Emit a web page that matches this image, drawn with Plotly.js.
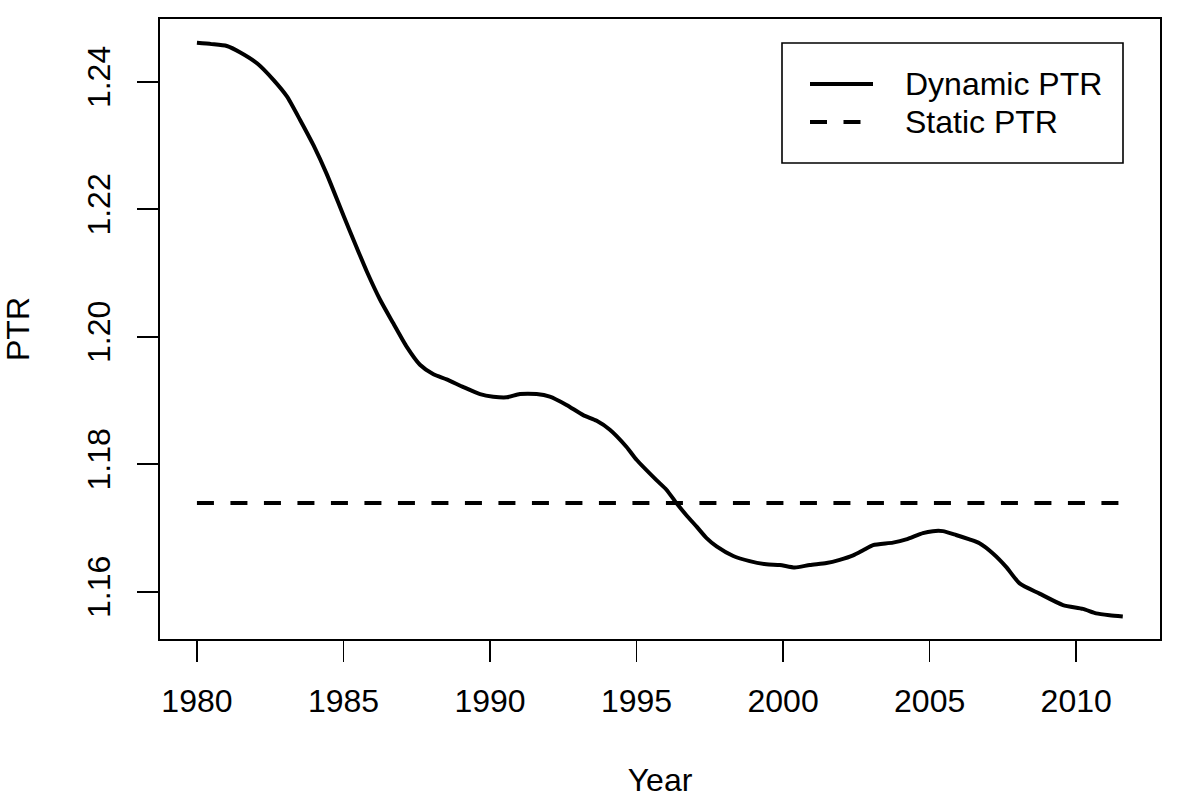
<!DOCTYPE html>
<html>
<head>
<meta charset="utf-8">
<script src="https://cdn.plot.ly/plotly-3.0.1.min.js"></script>
<style>
  html, body { margin: 0; padding: 0; background: #ffffff; }
  #chart { width: 1200px; height: 800px; }
</style>
</head>
<body>
<div id="chart"></div>
<script>
// Dynamic PTR
const dynYears = [1980.0, 1980.5, 1981.02, 1981.48, 1982.05, 1982.61, 1983.07, 1983.52, 1983.98, 1984.43,
  1985.0, 1985.45, 1985.8, 1986.25, 1986.7, 1987.16, 1987.61, 1988.07, 1988.52,
  1989.09, 1989.66, 1990.11, 1990.57, 1991.02, 1991.59, 1992.04, 1992.61, 1993.18, 1993.64,
  1994.09, 1994.66, 1995.0, 1995.68, 1996.02, 1996.36, 1996.7, 1997.05, 1997.39, 1997.73,
  1998.3, 1998.86, 1999.43, 1999.89, 2000.4, 2000.91, 2001.48, 2001.93, 2002.39, 2002.73,
  2003.07, 2003.75, 2004.2, 2004.77, 2005.11, 2005.45, 2005.9, 2006.36, 2006.7, 2007.16,
  2007.61, 2008.07, 2008.75, 2009.55, 2010.23, 2010.68, 2011.14, 2011.59];
const dynPTR = [1.2461, 1.2459, 1.2456, 1.2446, 1.2429, 1.2403, 1.2377, 1.2340, 1.2300, 1.2255,
  1.2190, 1.2140, 1.2102, 1.2058, 1.2021, 1.1984, 1.1956, 1.1941, 1.1933,
  1.1921, 1.1910, 1.1906, 1.1905, 1.1910, 1.1910, 1.1906, 1.1893, 1.1877, 1.1868,
  1.1854, 1.1827, 1.1807, 1.1775, 1.1760, 1.1739, 1.1720, 1.1702, 1.1684, 1.1671,
  1.1656, 1.1648, 1.1643, 1.1642, 1.1638, 1.1642, 1.1645, 1.1650, 1.1657, 1.1665,
  1.1673, 1.1677, 1.1682, 1.1692, 1.1695, 1.1695, 1.1689, 1.1682, 1.1676, 1.1660,
  1.1639, 1.1613, 1.1597, 1.1579, 1.1573, 1.1566, 1.1563, 1.1561];

// Static PTR
const staticYears = [1980.0, 2011.59];
const staticPTR = [1.1739, 1.1739];

// Axis ticks
const xTicks = [1980, 1985, 1990, 1995, 2000, 2005, 2010];
const yTicks = [1.16, 1.18, 1.20, 1.22, 1.24];
const yTickText = ["1.16", "1.18", "1.20", "1.22", "1.24"];

const legendNames = ["Dynamic PTR", "Static PTR"];
const legendDash = ["solid", "17px,16.5px"];

const FONT = "Liberation Sans, Arial, Helvetica, sans-serif";
const FS = 32;
const LW = 4;

const traces = [
  { x: dynYears, y: dynPTR, type: "scatter", mode: "lines", name: legendNames[0],
    line: { color: "#000000", width: LW, dash: legendDash[0], shape: "spline", smoothing: 0.6 },
    hoverinfo: "skip", showlegend: false },
  { x: staticYears, y: staticPTR, type: "scatter", mode: "lines", name: legendNames[1],
    line: { color: "#000000", width: LW, dash: legendDash[1] },
    hoverinfo: "skip", showlegend: false }
];

// legend drawn in paper coordinates to match R's legend box
const lgX0 = 0.622, lgX1 = 0.963, lgY0 = 0.7677, lgY1 = 0.9613;
const lgRows = [0.8952, 0.8339];
const shapes = [
  { type: "rect", xref: "paper", yref: "paper", x0: lgX0, x1: lgX1, y0: lgY0, y1: lgY1,
    line: { color: "#000000", width: 1.6 }, fillcolor: "#ffffff" }
];
const annotations = [];
legendNames.forEach((nm, i) => {
  shapes.push({ type: "line", xref: "paper", yref: "paper", x0: 0.650, x1: 0.713,
    y0: lgRows[i], y1: lgRows[i], line: { color: "#000000", width: LW, dash: legendDash[i] } });
  annotations.push({ xref: "paper", yref: "paper", x: 0.743, y: lgRows[i], text: nm,
    showarrow: false, xanchor: "left", yanchor: "middle",
    font: { family: FONT, size: FS, color: "#000000" } });
});

const layout = {
  width: 1200, height: 800,
  margin: { l: 160, r: 40, t: 19, b: 161, pad: 0 },
  paper_bgcolor: "#ffffff", plot_bgcolor: "#ffffff",
  font: { family: FONT, size: FS, color: "#000000" },
  showlegend: false,
  xaxis: {
    range: [1978.74, 2012.86], tickmode: "array", tickvals: xTicks,
    ticks: "outside", ticklen: 21, tickwidth: 1.6, tickcolor: "#000000",
    showline: true, mirror: true, linecolor: "#000000", linewidth: 1.6,
    showgrid: false, zeroline: false, ticklabelstandoff: 12,
    tickfont: { family: FONT, size: FS, color: "#000000" },
    title: { text: "Year", font: { family: FONT, size: FS, color: "#000000" }, standoff: 50 }
  },
  yaxis: {
    range: [1.15258, 1.24984], tickmode: "array", tickvals: yTicks, ticktext: yTickText,
    tickangle: -90,
    ticks: "outside", ticklen: 21, tickwidth: 1.6, tickcolor: "#000000",
    showline: true, mirror: true, linecolor: "#000000", linewidth: 1.6,
    showgrid: false, zeroline: false, ticklabelstandoff: 15,
    tickfont: { family: FONT, size: FS, color: "#000000" },
    title: { text: "PTR", font: { family: FONT, size: FS, color: "#000000" }, standoff: 42 }
  },
  shapes: shapes,
  annotations: annotations
};

Plotly.newPlot("chart", traces, layout, { displayModeBar: false, staticPlot: true });
</script>
</body>
</html>
